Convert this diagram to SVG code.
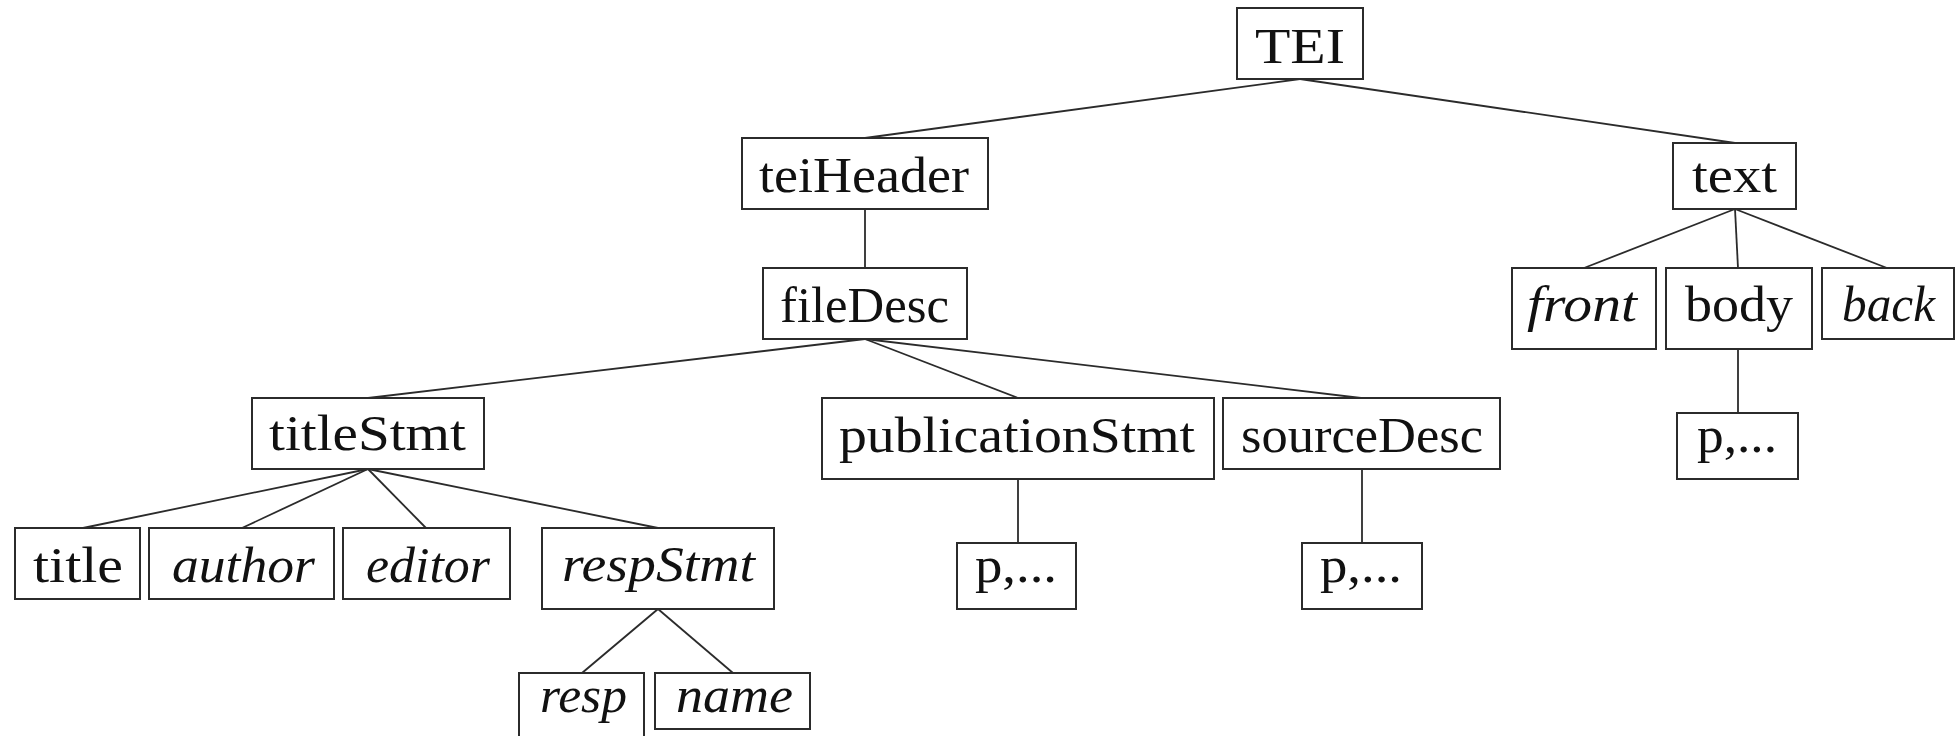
<svg xmlns="http://www.w3.org/2000/svg" width="1960" height="736" viewBox="0 0 1960 736">
  <style>
    .box { fill: #fff; stroke: #2b2b2b; stroke-width: 2; }
    .lbl { font-family: "Liberation Serif", "Times New Roman", serif; font-size: 50px; fill: #111; text-anchor: middle; }
    .it { font-style: italic; }
    .edges line { stroke: #2b2b2b; stroke-width: 1.8; }
  </style>
  <rect width="1960" height="736" fill="#fff"/>

  <!-- tree edges -->
  <g id="connectors" class="edges">
    <line x1="1300" y1="79" x2="865" y2="138"/>
    <line x1="1300" y1="79" x2="1735" y2="143"/>
    <line x1="865" y1="209" x2="865" y2="268"/>
    <line x1="1735" y1="209" x2="1584" y2="268"/>
    <line x1="1735" y1="209" x2="1738" y2="268"/>
    <line x1="1735" y1="209" x2="1887" y2="268"/>
    <line x1="1738" y1="349" x2="1738" y2="413"/>
    <line x1="865" y1="339" x2="368" y2="398"/>
    <line x1="865" y1="339" x2="1018" y2="398"/>
    <line x1="865" y1="339" x2="1361" y2="398"/>
    <line x1="368" y1="469" x2="83" y2="528"/>
    <line x1="368" y1="469" x2="242" y2="528"/>
    <line x1="368" y1="469" x2="426" y2="528"/>
    <line x1="368" y1="469" x2="658" y2="528"/>
    <line x1="1018" y1="479" x2="1018" y2="543"/>
    <line x1="1362" y1="469" x2="1362" y2="543"/>
    <line x1="658" y1="609" x2="582" y2="673"/>
    <line x1="658" y1="609" x2="733" y2="673"/>
  </g>

  <!-- nodes -->
  <g id="tei"><rect class="box" x="1237" y="8" width="126" height="71"/><text class="lbl" x="1300" y="63" textLength="90" lengthAdjust="spacingAndGlyphs">TEI</text></g>
  <g id="teiHeader"><rect class="box" x="742" y="138" width="246" height="71"/><text class="lbl" x="864" y="192" textLength="210" lengthAdjust="spacingAndGlyphs">teiHeader</text></g>
  <g id="text"><rect class="box" x="1673" y="143" width="123" height="66"/><text class="lbl" x="1734.5" y="192" textLength="85" lengthAdjust="spacingAndGlyphs">text</text></g>
  <g id="fileDesc"><rect class="box" x="763" y="268" width="204" height="71"/><text class="lbl" x="864.5" y="322" textLength="169" lengthAdjust="spacingAndGlyphs">fileDesc</text></g>
  <g id="front"><rect class="box" x="1512" y="268" width="144" height="81"/><text class="lbl it" x="1582" y="321" textLength="110" lengthAdjust="spacingAndGlyphs">front</text></g>
  <g id="body"><rect class="box" x="1666" y="268" width="146" height="81"/><text class="lbl" x="1739" y="321" textLength="108" lengthAdjust="spacingAndGlyphs">body</text></g>
  <g id="back"><rect class="box" x="1822" y="268" width="132" height="71"/><text class="lbl it" x="1888.5" y="321" textLength="93" lengthAdjust="spacingAndGlyphs">back</text></g>
  <g id="body-p"><rect class="box" x="1677" y="413" width="121" height="66"/><text class="lbl" x="1737" y="452" textLength="80" lengthAdjust="spacingAndGlyphs">p,...</text></g>
  <g id="titleStmt"><rect class="box" x="252" y="398" width="232" height="71"/><text class="lbl" x="367.5" y="450" textLength="197" lengthAdjust="spacingAndGlyphs">titleStmt</text></g>
  <g id="publicationStmt"><rect class="box" x="822" y="398" width="392" height="81"/><text class="lbl" x="1017" y="452" textLength="356" lengthAdjust="spacingAndGlyphs">publicationStmt</text></g>
  <g id="sourceDesc"><rect class="box" x="1223" y="398" width="277" height="71"/><text class="lbl" x="1362" y="452" textLength="242" lengthAdjust="spacingAndGlyphs">sourceDesc</text></g>
  <g id="publication-p"><rect class="box" x="957" y="543" width="119" height="66"/><text class="lbl" x="1016" y="582" textLength="82" lengthAdjust="spacingAndGlyphs">p,...</text></g>
  <g id="source-p"><rect class="box" x="1302" y="543" width="120" height="66"/><text class="lbl" x="1361" y="582" textLength="82" lengthAdjust="spacingAndGlyphs">p,...</text></g>
  <g id="title"><rect class="box" x="15" y="528" width="125" height="71"/><text class="lbl" x="78" y="582" textLength="90" lengthAdjust="spacingAndGlyphs">title</text></g>
  <g id="author"><rect class="box" x="149" y="528" width="185" height="71"/><text class="lbl it" x="243.5" y="582" textLength="143" lengthAdjust="spacingAndGlyphs">author</text></g>
  <g id="editor"><rect class="box" x="343" y="528" width="167" height="71"/><text class="lbl it" x="428" y="582" textLength="124" lengthAdjust="spacingAndGlyphs">editor</text></g>
  <g id="respStmt"><rect class="box" x="542" y="528" width="232" height="81"/><text class="lbl it" x="658.5" y="581" textLength="193" lengthAdjust="spacingAndGlyphs">respStmt</text></g>
  <g id="resp"><rect class="box" x="519" y="673" width="125" height="81"/><text class="lbl it" x="583.5" y="712" textLength="87" lengthAdjust="spacingAndGlyphs">resp</text></g>
  <g id="name"><rect class="box" x="655" y="673" width="155" height="56"/><text class="lbl it" x="734.5" y="712" textLength="117" lengthAdjust="spacingAndGlyphs">name</text></g>
</svg>
